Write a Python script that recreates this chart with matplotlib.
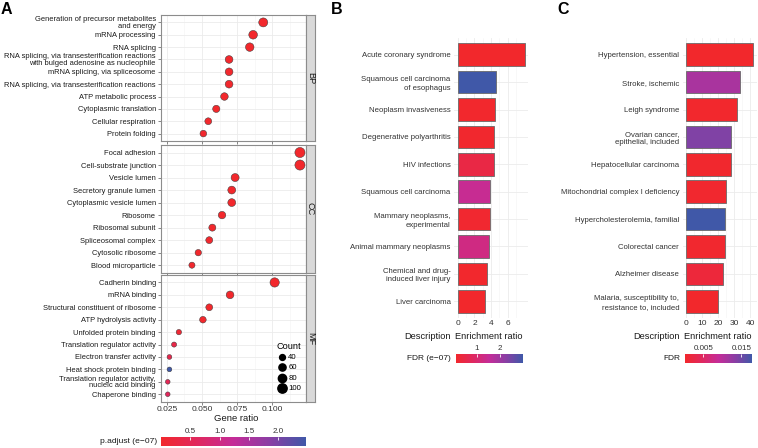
import numpy as np
import matplotlib
matplotlib.use("Agg")
import matplotlib.pyplot as plt
from matplotlib.colors import LinearSegmentedColormap, Normalize
from matplotlib.cm import ScalarMappable

plt.rcParams['font.family'] = ['Liberation Sans', 'DejaVu Sans']

# ---- data: panel A (GO dot plot) ----
bp_terms = ["Generation of precursor metabolites\nand energy", "mRNA processing", "RNA splicing",
            "RNA splicing, via transesterification reactions\nwith bulged adenosine as nucleophile",
            "mRNA splicing, via spliceosome", "RNA splicing, via transesterification reactions",
            "ATP metabolic process", "Cytoplasmic translation", "Cellular respiration", "Protein folding"]
bp_ratio = [0.0936, 0.0864, 0.0840, 0.0693, 0.0693, 0.0693, 0.0660, 0.0602, 0.0545, 0.0510]
bp_count = [93, 86, 83, 69, 69, 69, 66, 60, 54, 51]
bp_padj = [0.003, 0.004, 0.004, 0.02, 0.02, 0.02, 0.01, 0.005, 0.02, 0.03]

cc_terms = ["Focal adhesion", "Cell-substrate junction", "Vesicle lumen", "Secretory granule lumen",
            "Cytoplasmic vesicle lumen", "Ribosome", "Ribosomal subunit", "Spliceosomal complex",
            "Cytosolic ribosome", "Blood microparticle"]
cc_ratio = [0.1197, 0.1197, 0.0736, 0.0712, 0.0712, 0.0643, 0.0574, 0.0552, 0.0474, 0.0429]
cc_count = [118, 118, 74, 71, 71, 64, 57, 55, 47, 43]
cc_padj = [0.003, 0.003, 0.01, 0.01, 0.01, 0.004, 0.005, 0.03, 0.006, 0.05]

mf_terms = ["Cadherin binding", "mRNA binding", "Structural constituent of ribosome", "ATP hydrolysis activity",
            "Unfolded protein binding", "Translation regulator activity", "Electron transfer activity",
            "Heat shock protein binding", "Translation regulator activity,\nnucleic acid binding",
            "Chaperone binding"]
mf_ratio = [0.1017, 0.0700, 0.0552, 0.0507, 0.0336, 0.0302, 0.0269, 0.0269, 0.0257, 0.0257]
mf_count = [99, 68, 54, 50, 33, 30, 26, 26, 25, 25]
mf_padj = [0.003, 0.003, 0.006, 0.02, 0.1, 0.35, 0.42, 2.47, 0.52, 0.6]

count_legend = [40, 60, 80, 100]

# ---- data: panel B ----
b_terms = ["Acute coronary syndrome", "Squamous cell carcinoma\nof esophagus", "Neoplasm invasiveness",
           "Degenerative polyarthritis", "HIV infections", "Squamous cell carcinoma",
           "Mammary neoplasms,\nexperimental", "Animal mammary neoplasms",
           "Chemical and drug-\ninduced liver injury", "Liver carcinoma"]
b_ratio = [8.04, 4.64, 4.48, 4.36, 4.32, 3.92, 3.84, 3.72, 3.48, 3.24]
b_fdr = [0.09, 2.96, 0.10, 0.12, 0.45, 1.45, 0.15, 1.25, 0.10, 0.085]

# ---- data: panel C ----
c_terms = ["Hypertension, essential", "Stroke, ischemic", "Leigh syndrome", "Ovarian cancer,\nepithelial, included",
           "Hepatocellular carcinoma", "Mitochondrial complex I deficiency", "Hypercholesterolemia, familial",
           "Colorectal cancer", "Alzheimer disease", "Malaria, susceptibility to,\nresistance to, included"]
c_ratio = [42.1, 33.6, 31.6, 28.0, 28.0, 25.2, 24.2, 24.2, 23.1, 20.0]
c_fdr = [0.0002, 0.0110, 0.0003, 0.0140, 0.0004, 0.0005, 0.0178, 0.0005, 0.0015, 0.00018]

W, H = 758, 448
cmap = LinearSegmentedColormap.from_list(
    "rb", ['#F2282C', '#E0285E', '#C42C98', '#8A3EA4', '#4058A8'])


def box(x0, y0, x1, y1):
    return [x0 / W, 1 - y1 / H, (x1 - x0) / W, (y1 - y0) / H]


fig = plt.figure(figsize=(W / 100, H / 100), dpi=100)


def ftext(x, y, s, **kw):
    fig.text(x / W, 1 - y / H, s, **kw)


def add_cbar(rect, vmin, vmax, ticks, labels):
    cax = fig.add_axes(rect)
    sm = ScalarMappable(norm=Normalize(vmin, vmax), cmap=cmap)
    cb = fig.colorbar(sm, cax=cax, orientation='horizontal')
    cb.outline.set_visible(False)
    cax.xaxis.set_ticks_position('top')
    cb.set_ticks(ticks)
    cb.set_ticklabels(labels)
    cax.tick_params(axis='x', direction='in', length=2, width=0.6, color='white',
                    labelsize=5.8, pad=1.5, labelcolor='#333333')
    return cax


# ---- panel A ----
all_padj = bp_padj + cc_padj + mf_padj
norm_a = Normalize(min(all_padj), max(all_padj))
facets = [("BP", bp_terms, bp_ratio, bp_count, bp_padj, 15, 141),
          ("CC", cc_terms, cc_ratio, cc_count, cc_padj, 145, 272.7),
          ("MF", mf_terms, mf_ratio, mf_count, mf_padj, 275, 401.7)]
for name, terms, ratio, count, padj, top, bot in facets:
    ax = fig.add_axes(box(161, top, 306, bot))
    n = len(terms)
    ax.scatter(ratio, range(n), s=np.array(count) * 0.45, c=padj, cmap=cmap, norm=norm_a,
               edgecolors='#3a3a3a', linewidths=0.35, zorder=3)
    ax.set_xlim(0.0209, 0.124)
    ax.set_ylim(n - 1 + 0.6, -0.6)
    ax.set_xticks([0.025, 0.05, 0.075, 0.1])
    ax.set_xticks([0.0375, 0.0625, 0.0875, 0.1125], minor=True)
    ax.set_yticks(range(n))
    ax.set_yticklabels(terms, fontsize=5.45, color='#1a1a1a', linespacing=0.9)
    ax.grid(which='major', color='#EBEBEB', lw=0.6)
    ax.grid(which='minor', axis='x', color='#F4F4F4', lw=0.4)
    ax.set_axisbelow(True)
    for sp in ax.spines.values():
        sp.set_color('#8C8C8C')
        sp.set_linewidth(0.8)
    ax.tick_params(axis='both', which='major', length=2.2, width=0.5, color='#555555', pad=1.5)
    ax.tick_params(axis='x', which='major', pad=0.8)
    ax.tick_params(axis='x', which='minor', length=0)
    if name == "MF":
        ax.set_xticklabels(['0.025', '0.050', '0.075', '0.100'], fontsize=6, color='#333333')
        handles = [ax.scatter([], [], s=c * 0.45, color='black') for c in count_legend]
        ax.legend(handles, [str(c) for c in count_legend], title='Count', loc='upper left',
                  bbox_to_anchor=(271.5 / W, 1 - 336.5 / H), bbox_transform=fig.transFigure,
                  frameon=False, fontsize=5.6, title_fontsize=6.6, labelspacing=0.36,
                  handletextpad=0.2, borderpad=0.2, handlelength=1.2, scatterpoints=1)
    else:
        ax.set_xticklabels([])
    sax = fig.add_axes(box(306, top, 315, bot))
    sax.set_facecolor('#D9D9D9')
    sax.set_xticks([])
    sax.set_yticks([])
    for sp in sax.spines.values():
        sp.set_color('#8C8C8C')
        sp.set_linewidth(0.8)
    sax.text(0.5, 0.5, name, rotation=-90, ha='center', va='center', fontsize=6.6,
             color='#1a1a1a', transform=sax.transAxes)

ftext(236, 418, 'Gene ratio', ha='center', va='center', fontsize=6.8, color='#1a1a1a')
add_cbar(box(161, 436.7, 306, 445.7), norm_a.vmin, norm_a.vmax,
         [0.5, 1.0, 1.5, 2.0], ['0.5', '1.0', '1.5', '2.0'])
ftext(157.7, 441.5, 'p.adjust (e\u221207)', ha='right', va='center', fontsize=6.1, color='#1a1a1a')


# ---- panels B and C ----
def bar_panel(rect, terms, ratio, fdr, xlim, major, minor):
    ax = fig.add_axes(rect)
    n = len(terms)
    norm = Normalize(min(fdr), max(fdr))
    ax.barh(range(n), ratio, height=0.83, color=cmap(norm(fdr)), edgecolor='#6a6a6a',
            linewidth=0.6, zorder=3)
    ax.set_xlim(*xlim)
    ax.set_ylim(n - 1 + 0.6, -0.6)
    ax.set_xticks(major)
    ax.set_xticks(minor, minor=True)
    ax.set_yticks(range(n))
    ax.set_yticklabels(terms, fontsize=5.55, color='#333333', linespacing=1.3)
    ax.grid(which='major', color='#EBEBEB', lw=0.6)
    ax.grid(which='minor', axis='x', color='#F4F4F4', lw=0.4)
    ax.set_axisbelow(True)
    for sp in ax.spines.values():
        sp.set_visible(False)
    ax.tick_params(axis='both', which='both', length=0, pad=2.7)
    ax.tick_params(axis='x', labelsize=6, labelcolor='#333333', pad=2)
    return norm


norm_b = bar_panel(box(454.4, 38.3, 528.3, 317.7), b_terms, b_ratio, b_fdr,
                   (-0.4, 8.45), [0, 2, 4, 6], [1, 3, 5, 7])
ftext(450.7, 336, 'Description', ha='right', va='center', fontsize=6.7, color='#1a1a1a')
ftext(489.2, 336, 'Enrichment ratio', ha='center', va='center', fontsize=6.7, color='#1a1a1a')
add_cbar(box(455.7, 354, 522.7, 362.7), norm_b.vmin, norm_b.vmax, [1, 2], ['1', '2'])
ftext(450.7, 358.3, 'FDR (e\u221207)', ha='right', va='center', fontsize=6, color='#1a1a1a')

norm_c = bar_panel(box(683, 38.3, 756.7, 317.7), c_terms, c_ratio, c_fdr,
                   (-2.1, 44.2), [0, 10, 20, 30, 40], [5, 15, 25, 35])
ftext(680, 336, 'Description', ha='right', va='center', fontsize=6.7, color='#1a1a1a')
ftext(717.8, 336, 'Enrichment ratio', ha='center', va='center', fontsize=6.7, color='#1a1a1a')
add_cbar(box(685, 354, 752, 362.7), norm_c.vmin, norm_c.vmax, [0.005, 0.015], ['0.005', '0.015'])
ftext(680, 358.3, 'FDR', ha='right', va='center', fontsize=6, color='#1a1a1a')

# panel letters
ftext(1, 10, 'A', ha='left', va='center', fontsize=11.5, fontweight='bold')
ftext(331, 10, 'B', ha='left', va='center', fontsize=11.5, fontweight='bold')
ftext(557, 10, 'C', ha='left', va='center', fontsize=11.5, fontweight='bold')

fig.savefig('out.png', dpi=100)
